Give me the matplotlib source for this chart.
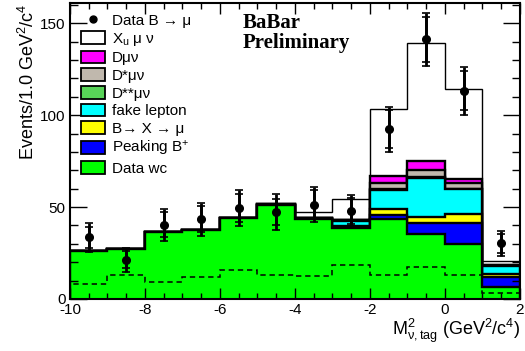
import numpy as np
import matplotlib
matplotlib.use("Agg")
import matplotlib.pyplot as plt
from matplotlib.patches import Patch
from matplotlib.lines import Line2D
from matplotlib.ticker import MultipleLocator

plt.rcParams['font.family'] = ['Liberation Sans', 'DejaVu Sans']
plt.rcParams['mathtext.fontset'] = 'custom'
plt.rcParams['mathtext.rm'] = 'Liberation Sans'
plt.rcParams['mathtext.it'] = 'Liberation Sans:italic'
plt.rcParams['axes.unicode_minus'] = False

# bins of M^2_nu,tag (GeV^2/c^4)
edges = np.arange(-10, 3, 1)

# data points with stat (inner) and total (outer) errors
data_y = [33.5, 21.4, 40.3, 43.4, 49.5, 47.4, 51.4, 47.8, 92.4, 141.2, 113.3, 30.3]
err_tot = [7.7, 6.5, 8.6, 9.0, 9.7, 9.8, 9.6, 8.8, 12.2, 14.4, 13.0, 6.8]
err_stat = [5.8, 4.7, 6.8, 7.2, 7.5, 7.0, 7.8, 7.0, 10.2, 12.2, 10.7, 5.2]

# stacked components, bottom to top
data_wc = [26.0, 27.2, 36.6, 37.5, 43.8, 51.4, 43.4, 38.4, 43.5, 35.3, 29.9, 6.4]
peaking_bp = [0, 0, 0, 0, 0, 0, 0.1, 0.6, 2.3, 6.2, 11.2, 5.7]
b_x_mu = [0, 0, 0, 0, 0, 0, 0.2, 0.8, 3.2, 3.2, 4.9, 1.5]
fake_lep = [0, 0, 0, 0, 0, 0, 0.4, 2.6, 10.2, 21.3, 13.6, 4.4]
dss_munu = [0, 0, 0, 0, 0, 0.1, 0.1, 0.3, 0.5, 0.3, 0.3, 0.2]
ds_munu = [0.1, 0.2, 0.1, 0.1, 0.1, 0.1, 0.1, 0.3, 3.4, 3.7, 3.0, 0.3]
d_munu = [0, 0, 0, 0, 0, 0, 0, 0.1, 3.9, 5.0, 2.1, 0.1]
xu_munu = [0, 0, 0, 0, 0, 0.1, 3.2, 11.3, 36.6, 64.0, 49.0, 2.2]

# dashed sub-component
dashed_comp = [8.2, 13.0, 9.4, 12.1, 16.0, 13.2, 12.7, 18.5, 13.0, 17.6, 13.0, 3.1]

labels = ["Data B \u2192 \u03bc", "X$_{\\mathregular{u}}$ \u03bc \u03bd", "D\u03bc\u03bd",
          "D*\u03bc\u03bd", "D**\u03bc\u03bd", "fake lepton", "B\u2192 X \u2192 \u03bc",
          "Peaking B$^{+}$", "Data wc"]

stack = [data_wc, peaking_bp, b_x_mu, fake_lep, dss_munu, ds_munu, d_munu, xu_munu]
colors = ['#00ff00', '#0000ff', '#ffff00', '#00ffff', '#58d458', '#c0b8ad', '#ff00ff', 'white']

fig = plt.figure(figsize=(5.25, 3.51), dpi=100)
ax = fig.add_axes([70 / 525, 1 - 299 / 351, 450 / 525, 296 / 351])

cum = np.cumsum(np.array(stack), axis=0)
# draw from the top of the stack down so lower layers sit on top
for i in range(len(stack) - 1, -1, -1):
    lw = 1.0 if i == len(stack) - 1 else 1.7
    ax.stairs(cum[i], edges, baseline=0, fill=True, facecolor=colors[i],
              edgecolor='black', lw=lw)

ax.stairs(dashed_comp, edges, color='black', lw=1.1, ls=(0, (3.5, 2.5)))

x = edges[:-1] + 0.5
ax.errorbar(x, data_y, yerr=err_tot, fmt='none', ecolor='black', elinewidth=2,
            capsize=3, capthick=1.2)
ax.errorbar(x, data_y, yerr=err_stat, fmt='o', color='black', ms=5.5, elinewidth=2,
            capsize=3, capthick=1.2)

ax.set_xlim(-10, 2)
ax.set_ylim(0, 161)
ax.xaxis.set_major_locator(MultipleLocator(2))
ax.xaxis.set_minor_locator(MultipleLocator(0.5))
ax.yaxis.set_major_locator(MultipleLocator(50))
ax.yaxis.set_minor_locator(MultipleLocator(10))
ax.tick_params(which='both', direction='in', top=True, right=True, labelsize=11, width=1)
ax.tick_params(axis='x', which='major', length=8, pad=3)
ax.tick_params(axis='x', which='minor', length=4)
ax.tick_params(axis='y', which='major', length=12, pad=3)
ax.tick_params(axis='y', which='minor', length=6)
for s in ax.spines.values():
    s.set_linewidth(1.5)

ax.set_ylabel("Events/1.0 GeV$^{2}$/c$^{4}$", fontsize=13, loc='top')
ax.yaxis.set_label_coords(-0.07, 1.0)
ax.set_xlabel("M$^{2}_{\\mathregular{\u03bd,tag}}$ (GeV$^{2}$/c$^{4}$)", fontsize=13, loc='right')
ax.xaxis.set_label_coords(1.0, -0.06)

ax.text(0.384, 0.965, "BaBar\nPreliminary", transform=ax.transAxes, ha='left', va='top',
        family='Liberation Serif', fontweight='bold', fontsize=15, linespacing=0.95)

handles = [Line2D([], [], marker='o', color='black', ls='none', ms=5)]
for c in ['white', '#ff00ff', '#c0b8ad', '#58d458', '#00ffff', '#ffff00', '#0000ff', '#00ff00']:
    handles.append(Patch(facecolor=c, edgecolor='black', lw=1.3))
ax.legend(handles, labels, loc='upper left', bbox_to_anchor=(0.024, 0.966), frameon=False,
          fontsize=11, borderpad=0, borderaxespad=0, handlelength=1.6, handleheight=0.9,
          handletextpad=0.45, labelspacing=0.2)

fig.savefig("out.png", dpi=100)
